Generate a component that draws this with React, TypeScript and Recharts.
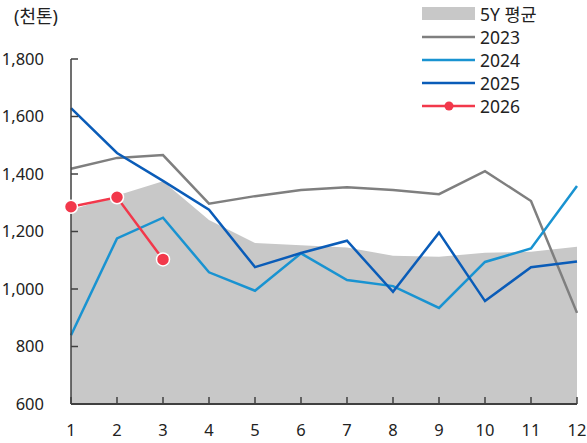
import React from 'react'
import { ComposedChart, Area, Line, XAxis, YAxis } from 'recharts'

const months = [1, 2, 3, 4, 5, 6, 7, 8, 9, 10, 11, 12]
const avg5y = [1275, 1325, 1375, 1240, 1160, 1152, 1144, 1116, 1112, 1126, 1130, 1147]
const y2023 = [1418, 1456, 1466, 1297, 1323, 1344, 1354, 1344, 1330, 1410, 1306, 917]
const y2024 = [839, 1176, 1248, 1058, 994, 1124, 1031, 1010, 934, 1094, 1141, 1358]
const y2025 = [1629, 1473, 1376, 1276, 1076, 1125, 1168, 990, 1196, 958, 1076, 1096]
const y2026 = [1286, 1319, 1103]
const yTicks = [600, 800, 1000, 1200, 1400, 1600, 1800]

const data = months.map((m, i) => ({
  month: m,
  avg: avg5y[i],
  y2023: y2023[i],
  y2024: y2024[i],
  y2025: y2025[i],
  y2026: i < y2026.length ? y2026[i] : null,
}))

const FONT = "'Noto Sans', 'Noto Sans CJK KR', sans-serif"
const TEXT = '#222'

const legendItems = [
  { name: '5Y 평균', color: '#c8c8c8', kind: 'area' },
  { name: '2023', color: '#7f7f7f', kind: 'line' },
  { name: '2024', color: '#1993d1', kind: 'line' },
  { name: '2025', color: '#0a5cb8', kind: 'line' },
  { name: '2026', color: '#f2384b', kind: 'dot' },
]

const ChartLegend = () => (
  <div style={{ fontFamily: FONT, fontSize: 17.5, color: TEXT }}>
    {legendItems.map((it) => (
      <div key={it.name} style={{ display: 'flex', alignItems: 'center', height: 22.8 }}>
        <svg width={58} height={16}>
          {it.kind === 'area' ? (
            <rect x={0} y={1} width={53} height={13} fill={it.color} />
          ) : (
            <line x1={0} y1={8} x2={53} y2={8} stroke={it.color} strokeWidth={2.5} />
          )}
          {it.kind === 'dot' && <circle cx={27} cy={8} r={4.5} fill={it.color} />}
        </svg>
        <span style={{ lineHeight: '18px' }}>{it.name}</span>
      </div>
    ))}
  </div>
)

export default function App() {
  return (
    <div style={{ position: 'absolute', left: 0, top: 0, width: 587, height: 443, background: '#fff' }}>
      <ComposedChart
        width={587}
        height={443}
        data={data}
        margin={{ top: 59, right: 10, bottom: 9, left: 0 }}
      >
        <XAxis
          dataKey="month"
          type="number"
          domain={[1, 12]}
          ticks={months}
          tickSize={-7}
          tickMargin={27}
          height={30}
          axisLine={{ stroke: '#404040', strokeWidth: 2 }}
          tickLine={{ stroke: '#404040', strokeWidth: 1.5 }}
          tick={{ fill: TEXT, fontSize: 16.5, fontFamily: FONT }}
        />
        <YAxis
          domain={[600, 1800]}
          ticks={yTicks}
          width={71}
          tickSize={-7}
          tickMargin={34}
          axisLine={{ stroke: '#404040', strokeWidth: 1.5 }}
          tickLine={{ stroke: '#404040', strokeWidth: 1.5 }}
          tick={{ fill: TEXT, fontSize: 16.5, fontFamily: FONT }}
          tickFormatter={(v: number) => v.toLocaleString('en-US')}
        />
        <Area
          dataKey="avg"
          name="5Y 평균"
          type="linear"
          fill="#c8c8c8"
          fillOpacity={1}
          stroke="none"
          isAnimationActive={false}
        />
        <Line dataKey="y2023" name="2023" type="linear" stroke="#7f7f7f" strokeWidth={2.5} dot={false} isAnimationActive={false} />
        <Line dataKey="y2024" name="2024" type="linear" stroke="#1993d1" strokeWidth={2.5} dot={false} isAnimationActive={false} />
        <Line dataKey="y2025" name="2025" type="linear" stroke="#0a5cb8" strokeWidth={2.5} dot={false} isAnimationActive={false} />
        <Line
          dataKey="y2026"
          name="2026"
          type="linear"
          stroke="#f2384b"
          strokeWidth={2.5}
          dot={{ r: 6.5, fill: '#f2384b', stroke: '#fff', strokeWidth: 1.5 }}
          isAnimationActive={false}
        />
      </ComposedChart>
      <div
        style={{
          position: 'absolute',
          left: 14,
          top: 4,
          fontFamily: FONT,
          fontSize: 18,
          color: TEXT,
          lineHeight: '24px',
        }}
      >
        (천톤)
      </div>
      <div style={{ position: 'absolute', left: 422, top: 3 }}>
        <ChartLegend />
      </div>
    </div>
  )
}
